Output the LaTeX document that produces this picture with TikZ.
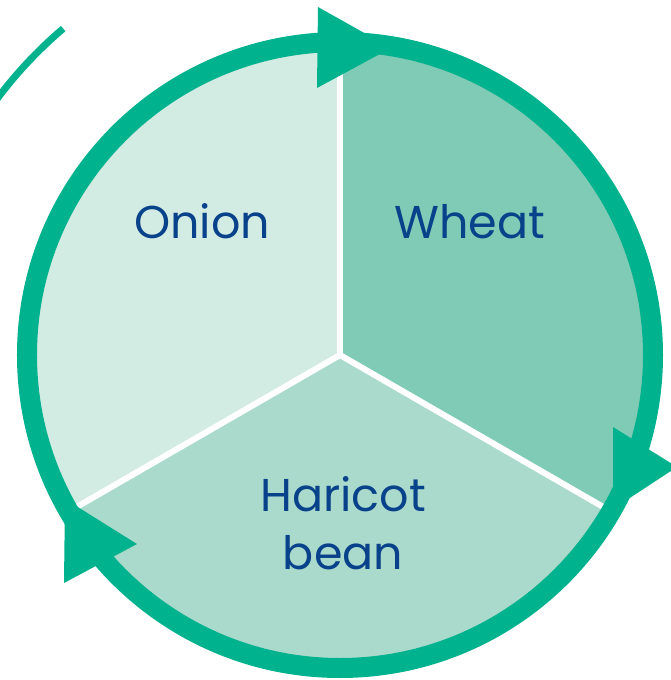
\documentclass[tikz,border=0pt]{standalone}
\usepackage{fontspec}
\setmainfont{Poppins}
\usetikzlibrary{positioning}
\definecolor{ringgreen}{RGB}{0,178,142}
\definecolor{onionfill}{RGB}{211,236,227}
\definecolor{wheatfill}{RGB}{127,203,182}
\definecolor{beanfill}{RGB}{170,218,204}
\definecolor{textblue}{RGB}{8,66,138}

\begin{document}
\begin{tikzpicture}[x=1pt,y=1pt,every node/.style={font=\fontsize{46}{58}\selectfont,text=textblue,align=center,inner sep=0pt},
sep/.style={white,line width=6pt},arrowhead/.style={fill=ringgreen}]
\useasboundingbox (-340,-325) rectangle (331,355);
\coordinate (c) at (0,0);
% sectors
\fill[onionfill] (c) -- (90:306) arc (90:210:306) -- cycle;
\fill[wheatfill] (c) -- (90:306) arc (90:-30:306) -- cycle;
\fill[beanfill] (c) -- (-30:306) arc (-30:-150:306) -- cycle;
\draw[sep] (c) -- (90:305);\draw[sep] (c) -- (-30:305);\draw[sep] (c) -- (210:305);
% ring and arrows
\draw[ringgreen,line width=20pt] (c) circle (313);
\draw[ringgreen,line width=7pt] (130.3:428) arc (130.3:155:428);
\fill[arrowhead] (-22,348) -- (51,307) -- (-23,267) -- cycle;
\fill[arrowhead] (273,-72) -- (337,-112) -- (273,-154) -- cycle;
\fill[arrowhead] (-203,-189) -- (-275,-144) -- (-276,-228) -- cycle;
% labels
\node(onion) at (-138,134) {Onion};
\node(wheat) at (130,133) {Wheat};
\node(bean) at (3,-168) {Haricot\\bean};
\end{tikzpicture}
\end{document}
